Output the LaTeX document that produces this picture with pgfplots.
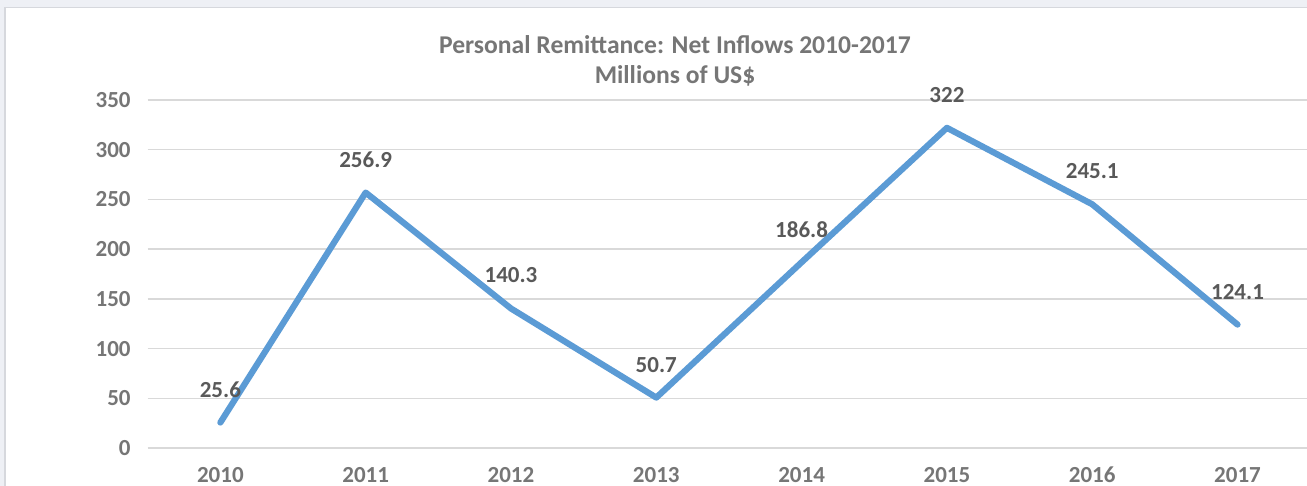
\documentclass[border=0pt]{standalone}
\usepackage{pgfplots}
\pgfplotsset{compat=1.18}
\usepackage{pgfplotstable}
\usepackage{fontspec}
\setmainfont{Carlito}
\definecolor{linecol}{HTML}{5B9BD5}
\definecolor{gridcol}{HTML}{D9D9D9}
\definecolor{tickcol}{HTML}{767676}
\definecolor{titlecol}{HTML}{767676}
\definecolor{labcol}{HTML}{595959}
\definecolor{bgcol}{HTML}{EEF0F5}
\definecolor{bordercol}{HTML}{D6D8DD}
\pgfplotstableread{
x y lab
0 25.6 25.6
1 256.9 256.9
2 140.3 140.3
3 50.7 50.7
4 186.8 186.8
5 322 322
6 245.1 245.1
7 124.1 124.1
}\remit
\begin{document}
\begin{tikzpicture}[x=1pt,y=1pt]
\clip (0,0) rectangle (653.5,243);
\fill[bgcol] (0,0) rectangle (653.5,243);
\filldraw[fill=white, draw=bordercol, line width=0.75pt] (2.6,-5) rectangle (660,239.2);
\node[align=center, text=titlecol, font=\bfseries\fontsize{12.8}{15}\selectfont] at (337.5,212.5) {Personal Remittance: Net Inflows 2010-2017\\Millions of US\$};
\begin{axis}[
  at={(73.85pt,19pt)}, anchor=south west,
  scale only axis, width=581.25pt, height=174pt,
  xmin=-0.5, xmax=7.5, ymin=0, ymax=350,
  ytick={0,50,...,350},
  xtick={0,...,7},
  xticklabels={2010,2011,2012,2013,2014,2015,2016,2017},
  ymajorgrids,
  major grid style={gridcol, line width=0.75pt},
  axis line style={draw=none},
  major tick length=0pt,
  tick label style={font=\bfseries\fontsize{11.5}{13}\selectfont, text=tickcol},
  yticklabel style={xshift=-5pt},
  xticklabel style={yshift=-6pt},
  /pgf/number format/assume math mode=true,
  clip=false,
]
\addplot[linecol, line width=3.1pt, line join=round, line cap=round,
  nodes near coords, point meta=explicit symbolic,
  every node near coord/.style={anchor=center, yshift=16.5pt, text=labcol, font=\bfseries\fontsize{11.5}{13}\selectfont}]
  table[x=x, y=y, meta=lab] {\remit};
\end{axis}
\end{tikzpicture}
\end{document}
